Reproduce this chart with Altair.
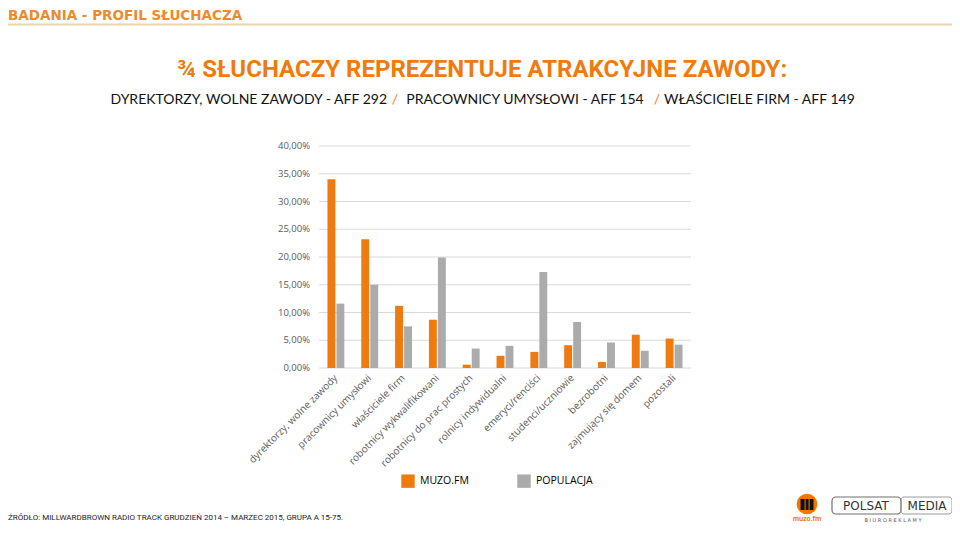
import altair as alt
import pandas as pd

categories = [
    "dyrektorzy, wolne zawody",
    "pracownicy umysłowi",
    "właściciele firm",
    "robotnicy wykwalifikowani",
    "robotnicy do prac prostych",
    "rolnicy indywidualni",
    "emeryci/renciści",
    "studenci/uczniowie",
    "bezrobotni",
    "zajmujący się domem",
    "pozostali",
]
series = ["MUZO.FM", "POPULACJA"]
muzo = [34.0, 23.2, 11.2, 8.7, 0.6, 2.2, 2.9, 4.1, 1.1, 6.0, 5.3]
populacja = [11.6, 15.0, 7.5, 19.9, 3.5, 4.0, 17.3, 8.3, 4.6, 3.1, 4.2]
y_ticks = [0, 5, 10, 15, 20, 25, 30, 35, 40]

header = "BADANIA - PROFIL SŁUCHACZA"
title = "¾ SŁUCHACZY REPREZENTUJE ATRAKCYJNE ZAWODY:"
sub_parts = ["DYREKTORZY, WOLNE ZAWODY - AFF 292", "PRACOWNICY UMYSŁOWI - AFF 154", "WŁAŚCICIELE FIRM - AFF 149"]
source = "ŹRÓDŁO: MILLWARDBROWN RADIO TRACK GRUDZIEŃ 2014 – MARZEC 2015, GRUPA A 15-75."

ORANGE = "#EF7B0E"
GRAY = "#ABABAB"
TXT = "#595959"

df = pd.DataFrame({
    "kategoria": categories * 2,
    "seria": [series[0]] * len(categories) + [series[1]] * len(categories),
    "wartosc": muzo + populacja,
})
grid_df = pd.DataFrame({"wartosc": y_ticks})

W, H = 372, 222
OX, OY = 319, 146  # plot origin on the page


def px(x):
    return x - OX


def py(y):
    return y - OY


one = alt.Data(values=[{}])


def label(text, x, y, size, color="#000000", align="center", font="Open Sans", weight="normal", baseline="middle"):
    return alt.Chart(one).mark_text(
        text=text, align=align, baseline=baseline, fontSize=size, color=color,
        font=font, fontWeight=weight,
    ).encode(x=alt.value(px(x)), y=alt.value(py(y)))


def box(x1, x2, y1, y2, **kw):
    return alt.Chart(one).mark_rect(**kw).encode(
        x=alt.value(px(x1)), x2=alt.value(px(x2)), y=alt.value(py(y1)), y2=alt.value(py(y2))
    )


yscale = alt.Scale(domain=[0, 40], nice=False)

gridlines = alt.Chart(grid_df).mark_rule(color="#D9D9D9", strokeWidth=1).encode(
    y=alt.Y("wartosc:Q", title=None, scale=yscale, axis=None),
    x=alt.value(0), x2=alt.value(W),
)

ylabels = alt.Chart(grid_df).transform_calculate(
    lbl="replace(format(datum.wartosc, '.2f'), '.', ',') + '%'"
).mark_text(align="right", baseline="middle", fontSize=9.5, color=TXT, font="Open Sans").encode(
    y=alt.Y("wartosc:Q", title=None, scale=yscale, axis=None),
    x=alt.value(-9),
    text="lbl:N",
)

bars = alt.Chart(df).mark_bar().encode(
    x=alt.X(
        "kategoria:N", sort=categories, title=None,
        scale=alt.Scale(paddingInner=0.5, paddingOuter=0.25),
        axis=alt.Axis(labelAngle=315, labelAlign="right", labelBaseline="middle",
                      labelPadding=8, domain=False, ticks=False, grid=False, labelFontSize=10,
                      labelColor=TXT, labelFont="Open Sans", labelLimit=300),
    ),
    xOffset=alt.XOffset("seria:N", sort=series, scale=alt.Scale(paddingInner=0.12)),
    y=alt.Y("wartosc:Q", title=None, scale=yscale, axis=None),
    color=alt.Color(
        "seria:N", sort=series, title=None,
        scale=alt.Scale(domain=series, range=[ORANGE, GRAY]),
        legend=alt.Legend(orient="none", legendX=82, legendY=328, direction="horizontal",
                          symbolType="square", symbolSize=180, symbolStrokeWidth=0,
                          labelFontSize=10.5, labelFont="Open Sans", labelColor="#000000",
                          labelOffset=5, columnPadding=48, padding=0),
    ),
)

layers = [
    gridlines,
    ylabels,
    bars,
    label(header, 8, 16, 13.5, color="#EC8A2E", align="left", font="DejaVu Sans", weight="bold"),
    box(8, 952, 23.5, 25.5, color="#E9D3A8"),
    label(title, 482, 70, 24, color=ORANGE, font="Roboto", weight="bold"),
    label(sub_parts[0], 387, 100, 14, color="#111111", align="right", font="Lato"),
    label("/", 395, 100, 14, color=ORANGE, font="Lato"),
    label(sub_parts[1], 525, 100, 14, color="#111111", font="Lato"),
    label("/", 657, 100, 14, color=ORANGE, font="Lato"),
    label(sub_parts[2], 664, 100, 14, color="#111111", align="left", font="Lato"),
    label(source, 8, 518, 8, color="#222222", align="left", font="Roboto"),
    # muzo.fm logo
    alt.Chart(one).mark_point(shape="circle", filled=True, opacity=1, size=430, color="#F07800").encode(
        x=alt.value(px(807)), y=alt.value(py(504))),
    box(800.5, 813.5, 499, 510, color="#111111"),
    box(804.6, 805.6, 499, 510, color="#F07800"),
    box(808.6, 809.6, 499, 510, color="#F07800"),
    label("muzo.fm", 807, 519, 6.5, color="#F07800", weight="bold"),
    # Polsat Media logo
    box(832, 901, 497, 514, fillOpacity=0, stroke="#6E6E6E", strokeWidth=1.2, cornerRadius=4),
    box(901, 952, 497, 514, fillOpacity=0, stroke="#9A9A9A", strokeWidth=1, cornerRadius=3),
    label("POLSAT", 866, 506, 12, color="#333333", font="DejaVu Sans"),
    label("MEDIA", 927, 506, 12, color="#333333", font="DejaVu Sans"),
    label("B I U R O      R E K L A M Y", 893, 519.5, 5, color="#555555", font="DejaVu Sans"),
]

chart = alt.layer(*layers).properties(
    width=W, height=H,
    background="white",
    autosize=alt.AutoSizeParams(type="none"),
    padding={"left": OX - 8, "top": OY - 8, "right": 944 - (OX - 8) - W, "bottom": 517 - (OY - 8) - H},
).configure_view(stroke=None)

chart.save("out.html", embed_options={"renderer": "svg", "actions": False})
